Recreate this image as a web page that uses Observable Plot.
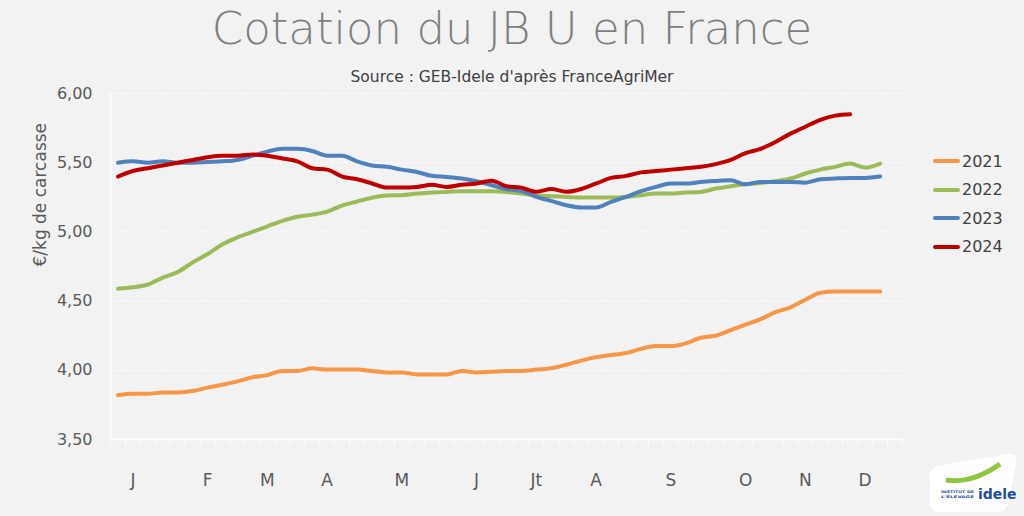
<!DOCTYPE html>
<html><head><meta charset="utf-8">
<script src="https://cdn.jsdelivr.net/npm/d3@7"></script>
<script src="https://cdn.jsdelivr.net/npm/@observablehq/plot@0.6"></script>
<style>
html,body{margin:0;padding:0;background:#f2f2f2;}
#wrap{position:relative;width:1024px;height:516px;overflow:hidden;font-family:"DejaVu Sans",sans-serif;}
#title{position:absolute;left:0;width:1024px;top:0;height:58px;line-height:58px;text-align:center;font-size:45px;font-weight:200;color:#7f7f7f;white-space:nowrap;}
#sub{position:absolute;left:0;width:1024px;top:66px;height:22px;line-height:22px;text-align:center;font-size:15.5px;color:#404040;white-space:nowrap;}
#chart{position:absolute;left:0;top:85px;}
#legend{position:absolute;left:933px;top:147px;}
.item{height:28.5px;display:flex;align-items:center;font-size:16px;color:#404040;}
.sw{width:27px;height:4px;border-radius:2px;margin-right:2px;}
#logo{position:absolute;left:922px;top:450px;}
</style></head>
<body><div id="wrap">
<div id="title">Cotation du JB U en France</div>
<div id="sub">Source : GEB-Idele d'après FranceAgriMer</div>
<div id="chart"></div>
<div id="legend"></div>
<div id="logo"><svg width="100" height="66" viewBox="0 0 100 66">
<path d="M8,30 Q4,20 16,16 L84,4 Q96,2 94,14 L86,54 Q84,62 74,62 L18,62 Q8,62 8,52 Z" fill="#ffffff"/>
<path d="M24,30 Q50,34 78,14" stroke="#8dc63f" stroke-width="5" fill="none"/>
<text x="19" y="43" font-size="3.6" font-weight="bold" fill="#1f4e9a" font-family="DejaVu Sans" textLength="33" lengthAdjust="spacingAndGlyphs">INSTITUT DE</text>
<text x="19" y="48" font-size="3.6" font-weight="bold" fill="#1f4e9a" font-family="DejaVu Sans" textLength="33" lengthAdjust="spacingAndGlyphs">L'ÉLEVAGE</text>
<text x="56" y="49" font-size="14" font-weight="bold" fill="#1f4e9a" font-family="DejaVu Sans">idele</text>
</svg></div>
</div>
<script>
const years = ["2021", "2022", "2023", "2024"];
const colors = ["#f79646", "#9bbb59", "#4f81bd", "#c00000"];
const v2021 = [3.82,3.83,3.83,3.84,3.84,3.85,3.875,3.895,3.92,3.95,3.965,3.995,3.995,4.015,4.005,4.005,4.005,3.995,3.985,3.985,3.97,3.97,3.97,3.995,3.985,3.99,3.995,3.995,4.005,4.015,4.04,4.07,4.095,4.11,4.125,4.155,4.175,4.175,4.195,4.235,4.25,4.29,4.33,4.37,4.42,4.455,4.51,4.56,4.57,4.57,4.57,4.57];
const v2022 = [4.59,4.60,4.62,4.67,4.71,4.78,4.84,4.91,4.96,5.00,5.04,5.08,5.11,5.125,5.147,5.19,5.22,5.247,5.263,5.265,5.277,5.284,5.289,5.294,5.294,5.294,5.289,5.277,5.265,5.258,5.253,5.248,5.248,5.248,5.253,5.265,5.277,5.277,5.285,5.289,5.313,5.33,5.344,5.354,5.366,5.386,5.422,5.45,5.47,5.494,5.465,5.494];
const v2023 = [5.50,5.51,5.50,5.51,5.50,5.50,5.505,5.51,5.52,5.55,5.58,5.60,5.60,5.585,5.55,5.55,5.51,5.48,5.47,5.45,5.433,5.405,5.397,5.386,5.366,5.337,5.308,5.296,5.253,5.224,5.193,5.176,5.176,5.217,5.253,5.294,5.325,5.349,5.349,5.361,5.368,5.373,5.344,5.361,5.361,5.361,5.356,5.38,5.386,5.39,5.39,5.40];
const v2024 = [5.40,5.44,5.46,5.48,5.50,5.52,5.54,5.55,5.55,5.56,5.55,5.53,5.51,5.46,5.45,5.40,5.38,5.35,5.32,5.32,5.325,5.34,5.325,5.34,5.35,5.37,5.33,5.32,5.29,5.31,5.29,5.31,5.35,5.39,5.405,5.43,5.44,5.45,5.46,5.47,5.49,5.52,5.57,5.60,5.65,5.71,5.76,5.81,5.84,5.85];
const monthLabels = ["J","F","M","A","M","J","Jt","A","S","O","N","D"];
const monthWeeks = [2,7,11,15,20,25,29,33,38,43,47,51];
const yTicks = [3.5,4.0,4.5,5.0,5.5,6.0];
const yLabel = "€/kg de carcasse";

const series = [v2021, v2022, v2023, v2024];
const rows = series.flatMap((vals, s) => vals.map((value, i) => ({week: i + 1, value, year: years[s]})));
const monthByWeek = new Map(monthWeeks.map((w, i) => [w, monthLabels[i]]));
const weekBounds = d3.range(0, 54).map(k => k + 0.5);

const chart = Plot.plot({
  width: 1024, height: 431,
  marginLeft: 110, marginRight: 122, marginTop: 8, marginBottom: 77,
  style: {background: "transparent", fontFamily: "DejaVu Sans", fontSize: "15px", color: "#595959"},
  x: {domain: [0.5, 53.5]},
  y: {domain: [3.5, 6.0]},
  color: {domain: years, range: colors},
  marks: [
    Plot.gridY(yTicks.slice(1), {stroke: "#ffffff", strokeOpacity: 1, strokeDasharray: "3,2", strokeWidth: 1}),
    Plot.ruleX([0.5], {stroke: "#ffffff", strokeWidth: 1.5}),
    Plot.ruleY([3.5], {stroke: "#ffffff", strokeWidth: 1.5}),
    Plot.axisX(weekBounds, {tickSize: 6, tickFormat: () => "", stroke: "#ffffff", strokeOpacity: 1, label: null}),
    Plot.axisX(monthWeeks, {tickSize: 0, tickPadding: 34, tickFormat: d => monthByWeek.get(d), fontSize: 17, fill: "#595959", label: null}),
    Plot.axisY(yTicks, {tickSize: 0, tickPadding: 18, tickFormat: d => d.toFixed(2).replace(".", ","), fontSize: 16, fill: "#595959", label: null}),
    Plot.text([yLabel], {frameAnchor: "left", rotate: -90, dx: -70, fontSize: 17, fill: "#595959"}),
    Plot.lineY(rows, {x: "week", y: "value", stroke: "year", z: "year", strokeWidth: 4, curve: "monotone-x", strokeLinecap: "round", strokeLinejoin: "round"})
  ]
});
document.getElementById("chart").appendChild(chart);

const legend = document.getElementById("legend");
years.forEach((y, i) => {
  const item = document.createElement("div");
  item.className = "item";
  item.innerHTML = `<span class="sw" style="background:${colors[i]}"></span><span>${y}</span>`;
  legend.appendChild(item);
});
</script>
</body></html>
